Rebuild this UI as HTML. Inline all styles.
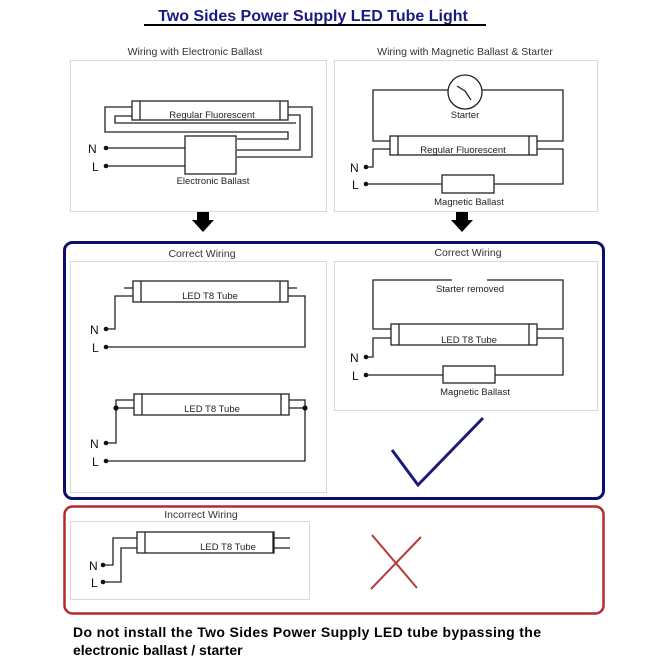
<!DOCTYPE html>
<html><head><meta charset="utf-8"><style>
html,body{margin:0;padding:0;background:#fff}
svg{display:block}
text{font-family:"Liberation Sans",sans-serif}
</style></head><body>
<svg width="668" height="668" viewBox="0 0 668 668" xmlns="http://www.w3.org/2000/svg">
<rect width="668" height="668" fill="#fff"/>
<text x="313" y="21" text-anchor="middle" font-size="16" font-weight="bold" fill="#1a1a80">Two Sides Power Supply LED Tube Light</text>
<line x1="144" y1="25" x2="486" y2="25" stroke="#000" stroke-width="2"/>

<g font-size="10.5" fill="#333" text-anchor="middle">
<text x="195" y="55">Wiring with Electronic Ballast</text>
<text x="465" y="55">Wiring with Magnetic Ballast &amp; Starter</text>
<text x="202" y="257">Correct Wiring</text>
<text x="468" y="256">Correct Wiring</text>
<text x="201" y="518">Incorrect Wiring</text>
</g>

<g fill="none" stroke="#d8d8d8" stroke-width="1">
<rect x="70.5" y="60.5" width="256" height="151"/>
<rect x="334.5" y="60.5" width="263" height="151"/>
<rect x="70.5" y="261.5" width="256" height="231"/>
<rect x="334.5" y="261.5" width="263" height="149"/>
<rect x="70.5" y="521.5" width="239" height="78"/>
</g>

<g fill="none" stroke="#222" stroke-width="1.3">
<rect x="132" y="101" width="156" height="19" fill="#fff"/>
<line x1="140" y1="101" x2="140" y2="120"/><line x1="280" y1="101" x2="280" y2="120"/>
<polyline points="132,107 105,107 105,132 288,132 288,139 237,139"/>
<polyline points="132,116 115,116 115,123 296,123"/>
<polyline points="288,115 300,115 300,150 237,150"/>
<polyline points="288,107 312,107 312,157 237,157"/>
<rect x="185" y="136" width="51" height="38" fill="#fff"/>
<line x1="106" y1="148" x2="185" y2="148"/>
<line x1="106" y1="166" x2="185" y2="166"/>
<polyline points="390,141 373,141 373,90 448,90"/>
<polyline points="482,90 563,90 563,141 537,141"/>
<circle cx="465" cy="92" r="17" fill="#fff"/>
<polyline points="457,86 465,91 471,100"/>
<rect x="390" y="136" width="147" height="19" fill="#fff"/>
<line x1="398" y1="136" x2="398" y2="155"/><line x1="529" y1="136" x2="529" y2="155"/>
<polyline points="366,167 373,167 373,149 390,149"/>
<polyline points="366,184 563,184 563,149 537,149"/>
<rect x="442" y="175" width="52" height="18" fill="#fff"/>
<rect x="133" y="281" width="155" height="21" fill="#fff"/>
<line x1="141" y1="281" x2="141" y2="302"/><line x1="280" y1="281" x2="280" y2="302"/>
<line x1="124" y1="288" x2="133" y2="288"/><line x1="288" y1="288" x2="297" y2="288"/>
<polyline points="106,329 115,329 115,296 133,296"/>
<polyline points="106,347 305,347 305,296 288,296"/>
<rect x="134" y="394" width="155" height="21" fill="#fff"/>
<line x1="142" y1="394" x2="142" y2="415"/><line x1="281" y1="394" x2="281" y2="415"/>
<polyline points="134,400 116,400 116,443 106,443"/>
<line x1="116" y1="408" x2="134" y2="408"/>
<polyline points="289,400 305,400 305,461 106,461"/>
<line x1="289" y1="408" x2="305" y2="408"/>
<polyline points="391,329 373,329 373,280 452,280"/>
<polyline points="487,280 563,280 563,329 537,329"/>
<rect x="391" y="324" width="146" height="21" fill="#fff"/>
<line x1="399" y1="324" x2="399" y2="345"/><line x1="529" y1="324" x2="529" y2="345"/>
<polyline points="366,357 373,357 373,338 391,338"/>
<polyline points="366,375 563,375 563,338 537,338"/>
<rect x="443" y="366" width="52" height="17" fill="#fff"/>
<rect x="137" y="532" width="137" height="21" fill="#fff"/>
<line x1="145" y1="532" x2="145" y2="553"/><line x1="273" y1="532" x2="273" y2="553"/>
<line x1="274" y1="538" x2="290" y2="538"/><line x1="274" y1="548" x2="290" y2="548"/>
<polyline points="103,565 113,565 113,538 137,538"/>
<polyline points="103,582 121,582 121,548 137,548"/>
</g>

<g fill="#111">
<circle cx="106" cy="148" r="2.3"/><circle cx="106" cy="166" r="2.3"/>
<circle cx="366" cy="167" r="2.3"/><circle cx="366" cy="184" r="2.3"/>
<circle cx="106" cy="329" r="2.3"/><circle cx="106" cy="347" r="2.3"/>
<circle cx="106" cy="443" r="2.3"/><circle cx="106" cy="461" r="2.3"/>
<circle cx="116" cy="408" r="2.6"/><circle cx="305" cy="408" r="2.6"/>
<circle cx="366" cy="357" r="2.3"/><circle cx="366" cy="375" r="2.3"/>
<circle cx="103" cy="565" r="2.3"/><circle cx="103" cy="582" r="2.3"/>
</g>

<g font-size="12" fill="#111">
<text x="88" y="153">N</text><text x="92" y="171">L</text>
<text x="350" y="172">N</text><text x="352" y="189">L</text>
<text x="90" y="334">N</text><text x="92" y="352">L</text>
<text x="90" y="448">N</text><text x="92" y="466">L</text>
<text x="350" y="362">N</text><text x="352" y="380">L</text>
<text x="89" y="570">N</text><text x="91" y="587">L</text>
</g>
<g font-size="9.5" fill="#222" text-anchor="middle">
<text x="212" y="118">Regular Fluorescent</text>
<text x="213" y="184">Electronic Ballast</text>
<text x="465" y="118">Starter</text>
<text x="463" y="153">Regular Fluorescent</text>
<text x="469" y="205">Magnetic Ballast</text>
<text x="210" y="299">LED T8 Tube</text>
<text x="212" y="412">LED T8 Tube</text>
<text x="470" y="292">Starter removed</text>
<text x="469" y="343">LED T8 Tube</text>
<text x="475" y="395">Magnetic Ballast</text>
<text x="228" y="550">LED T8 Tube</text>
</g>

<polygon points="197,212 209,212 209,220 214,220 203,232 192,220 197,220" fill="#000"/>
<polygon points="456,212 468,212 468,220 473,220 462,232 451,220 456,220" fill="#000"/>

<rect x="64.5" y="242.5" width="539" height="256" rx="8" fill="none" stroke="#0d0d6e" stroke-width="3"/>
<rect x="64.5" y="506.5" width="539" height="107" rx="8" fill="none" stroke="#b52a2e" stroke-width="2.5"/>

<polyline points="392,450 418,485 483,418" fill="none" stroke="#1a1a7a" stroke-width="3"/>
<line x1="372" y1="535" x2="417" y2="588" stroke="#b53a3a" stroke-width="2"/>
<line x1="421" y1="537" x2="371" y2="589" stroke="#b53a3a" stroke-width="2"/>

<g font-size="14" font-weight="bold" fill="#000">
<text x="73" y="637" textLength="468">Do not install the Two Sides Power Supply LED tube bypassing the</text>
<text x="73" y="655">electronic ballast / starter</text>
</g>
</svg>
</body></html>
